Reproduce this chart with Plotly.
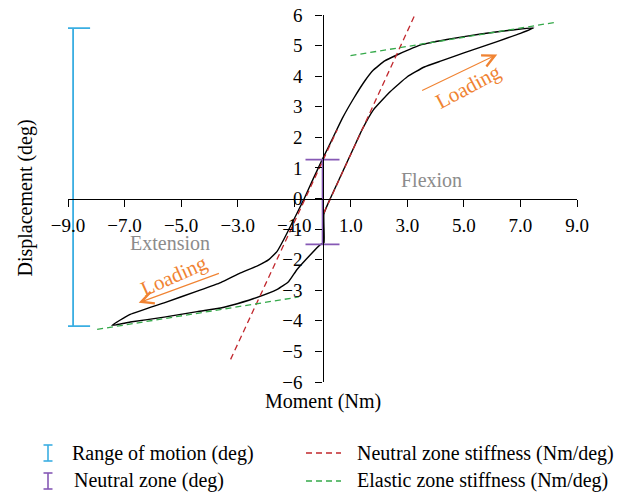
import plotly.graph_objects as go

# ---------------- data ----------------
# hysteresis loop (Moment Nm, Displacement deg), traced in loading order
loop_moment = [0.05, 0.05, 0.3, 0.7, 1.1, 1.4, 1.8, 2.4, 3.0, 3.6, 4.2, 5.0, 6.2, 7.0, 7.47,
               6.8, 5.6, 4.4, 3.5, 2.65, 2.2, 1.8, 1.5, 1.1, 0.7, 0.35, -0.01,
               -0.35, -0.66, -1.13, -1.37, -1.6, -1.9, -2.3, -2.9, -3.6, -4.43, -5.6, -6.8, -7.45,
               -6.8, -5.6, -4.43, -3.6, -3.25, -2.43, -1.6, -1.2, -0.9, -0.42, -0.07, 0.05]
loop_disp = [-1.45, -0.5, 0.05, 0.85, 1.65, 2.25, 2.9, 3.5, 3.98, 4.3, 4.5, 4.76, 5.14, 5.4, 5.58,
             5.52, 5.38, 5.2, 5.03, 4.7, 4.5, 4.2, 3.85, 3.27, 2.62, 1.95, 1.27,
             0.6, -0.03, -0.9, -1.34, -1.72, -2.0, -2.2, -2.43, -2.75, -3.03, -3.41, -3.79, -4.15,
             -4.04, -3.88, -3.7, -3.58, -3.5, -3.27, -2.97, -2.72, -2.32, -1.83, -1.5, -1.45]

# neutral zone stiffness tangents (two segments)
nzs_moment = [-3.25, 0.52, None, 0.05, 3.29]
nzs_disp = [-5.26, 2.25, None, -0.47, 6.05]

# elastic zone stiffness tangents (two segments)
ezs_moment = [0.99, 8.24, None, -7.97, -0.84]
ezs_disp = [4.67, 5.76, None, -4.28, -3.22]

# range of motion and neutral zone (deg)
rom_x = -8.82
rom_min, rom_max = -4.17, 5.57
nz_x = 0.0
nz_min, nz_max = -1.5, 1.27

x_ticks = [-9, -7, -5, -3, -1, 1, 3, 5, 7, 9]
y_ticks = [-6, -5, -4, -3, -2, -1, 0, 1, 2, 3, 4, 5, 6]

legend_labels = ["Range of motion (deg)", "Neutral zone (deg)",
                 "Neutral zone stiffness (Nm/deg)", "Elastic zone stiffness (Nm/deg)"]

# ---------------- style ----------------
FONT = "Liberation Serif"
W, H = 639, 494
L, R, T, B = 68, 62, 15, 112
BLUE = "#3aaee2"
PURPLE = "#8659b5"
RED = "#c1272d"
GREEN = "#35a94a"
ORANGE = "#f08332"
GRAY = "#8c8c8c"

pw, ph = W - L - R, H - T - B


def px(xp):
    return (xp - L) / pw


def py(yp):
    return (H - B - yp) / ph


fig = go.Figure()

fig.add_trace(go.Scatter(x=loop_moment, y=loop_disp, mode="lines",
                         line=dict(color="black", width=1.4, shape="spline", smoothing=0.4),
                         showlegend=False, cliponaxis=False))
fig.add_trace(go.Scatter(x=nzs_moment, y=nzs_disp, mode="lines",
                         line=dict(color=RED, width=1.3, dash="6px,4px"),
                         showlegend=False, cliponaxis=False))
fig.add_trace(go.Scatter(x=ezs_moment, y=ezs_disp, mode="lines",
                         line=dict(color=GREEN, width=1.3, dash="6px,4px"),
                         showlegend=False, cliponaxis=False))
fig.add_trace(go.Scatter(x=[rom_x], y=[rom_min], mode="markers",
                         marker=dict(size=1, color="rgba(0,0,0,0)"),
                         error_y=dict(type="data", symmetric=False, array=[rom_max - rom_min],
                                      arrayminus=[0], color=BLUE, thickness=1.8, width=17),
                         showlegend=False, cliponaxis=False))
fig.add_trace(go.Scatter(x=[nz_x], y=[nz_min], mode="markers",
                         marker=dict(size=1, color="rgba(0,0,0,0)"),
                         error_y=dict(type="data", symmetric=False, array=[nz_max - nz_min],
                                      arrayminus=[0], color=PURPLE, thickness=1.6, width=17),
                         showlegend=False, cliponaxis=False))

axis_common = dict(showgrid=False, zeroline=False, showline=True, linecolor="black", linewidth=1.3,
                   ticks="outside", ticklen=7, tickwidth=1.3, tickcolor="black", automargin=False,
                   tickfont=dict(family=FONT, size=19, color="black"), anchor="free", position=0.5)

fig.update_xaxes(range=[-9, 9], tickvals=x_ticks,
                 ticktext=[("−" if v < 0 else "") + f"{abs(v):.1f}" for v in x_ticks],
                 ticklabelstandoff=3, **axis_common)
fig.update_yaxes(range=[-6, 6], tickvals=y_ticks,
                 ticktext=[("−" if v < 0 else "") + f"{abs(v)}" for v in y_ticks],
                 ticklabelstandoff=9, **axis_common)

ann = []
# axis titles
ann.append(dict(text="Moment (Nm)", x=0, y=py(401), xref="x", yref="paper", showarrow=False,
                xanchor="center", yanchor="middle", font=dict(family=FONT, size=20, color="black")))
ann.append(dict(text="Displacement (deg)", x=px(25), y=0, xref="paper", yref="y", showarrow=False,
                xanchor="center", yanchor="middle", textangle=-90,
                font=dict(family=FONT, size=20, color="black")))
# region labels
ann.append(dict(text="Flexion", x=3.87, y=0.59, xref="x", yref="y", showarrow=False,
                xanchor="center", yanchor="middle", font=dict(family=FONT, size=20, color=GRAY)))
ann.append(dict(text="Extension", x=-5.38, y=-1.47, xref="x", yref="y", showarrow=False,
                xanchor="center", yanchor="middle", font=dict(family=FONT, size=20, color=GRAY)))
# loading arrows and labels
ann.append(dict(text="", x=6.18, y=4.71, ax=3.47, ay=3.51, xref="x", yref="y", axref="x", ayref="y",
                showarrow=True, arrowhead=5, arrowsize=2.2, arrowwidth=1.1, arrowcolor=ORANGE))
ann.append(dict(text="Loading", x=5.13, y=3.66, xref="x", yref="y", showarrow=False, textangle=-28,
                xanchor="center", yanchor="middle", font=dict(family=FONT, size=21, color=ORANGE)))
ann.append(dict(text="", x=-6.5, y=-3.41, ax=-3.61, ay=-2.43, xref="x", yref="y", axref="x", ayref="y",
                showarrow=True, arrowhead=5, arrowsize=2.2, arrowwidth=1.1, arrowcolor=ORANGE))
ann.append(dict(text="Loading", x=-5.26, y=-2.54, xref="x", yref="y", showarrow=False, textangle=-24,
                xanchor="center", yanchor="middle", font=dict(family=FONT, size=21, color=ORANGE)))

# manual legend
shapes = []
legend_rows = [453, 481]
for (lx, color, row, label, tx) in [(48, BLUE, 0, legend_labels[0], 70), (48, PURPLE, 1, legend_labels[1], 72)]:
    yc = legend_rows[row]
    y0, y1 = yc - 8, yc + 8
    shapes.append(dict(type="line", xref="paper", yref="paper", x0=px(lx), x1=px(lx), y0=py(y0), y1=py(y1),
                       line=dict(color=color, width=1.6)))
    for yy in (y0, y1):
        shapes.append(dict(type="line", xref="paper", yref="paper", x0=px(lx - 4.5), x1=px(lx + 4.5),
                           y0=py(yy), y1=py(yy), line=dict(color=color, width=1.6)))
    ann.append(dict(text=label, x=px(tx), y=py(yc), xref="paper", yref="paper", xanchor="left",
                    yanchor="middle", showarrow=False, font=dict(family=FONT, size=20, color="black")))
for (color, row, label) in [(RED, 0, legend_labels[2]), (GREEN, 1, legend_labels[3])]:
    yc = legend_rows[row]
    shapes.append(dict(type="line", xref="paper", yref="paper", x0=px(306), x1=px(341), y0=py(yc), y1=py(yc),
                       line=dict(color=color, width=1.3, dash="6px,4px")))
    ann.append(dict(text=label, x=px(355), y=py(yc), xref="paper", yref="paper", xanchor="left",
                    yanchor="middle", showarrow=False, font=dict(family=FONT, size=20, color="black")))

fig.update_layout(width=W, height=H, margin=dict(l=L, r=R, t=T, b=B, pad=0), plot_bgcolor="white",
                  paper_bgcolor="white", showlegend=False, annotations=ann, shapes=shapes,
                  font=dict(family=FONT))

fig.write_html("out.html", config={"displayModeBar": False},
               post_script="document.body.style.margin='0px';")
